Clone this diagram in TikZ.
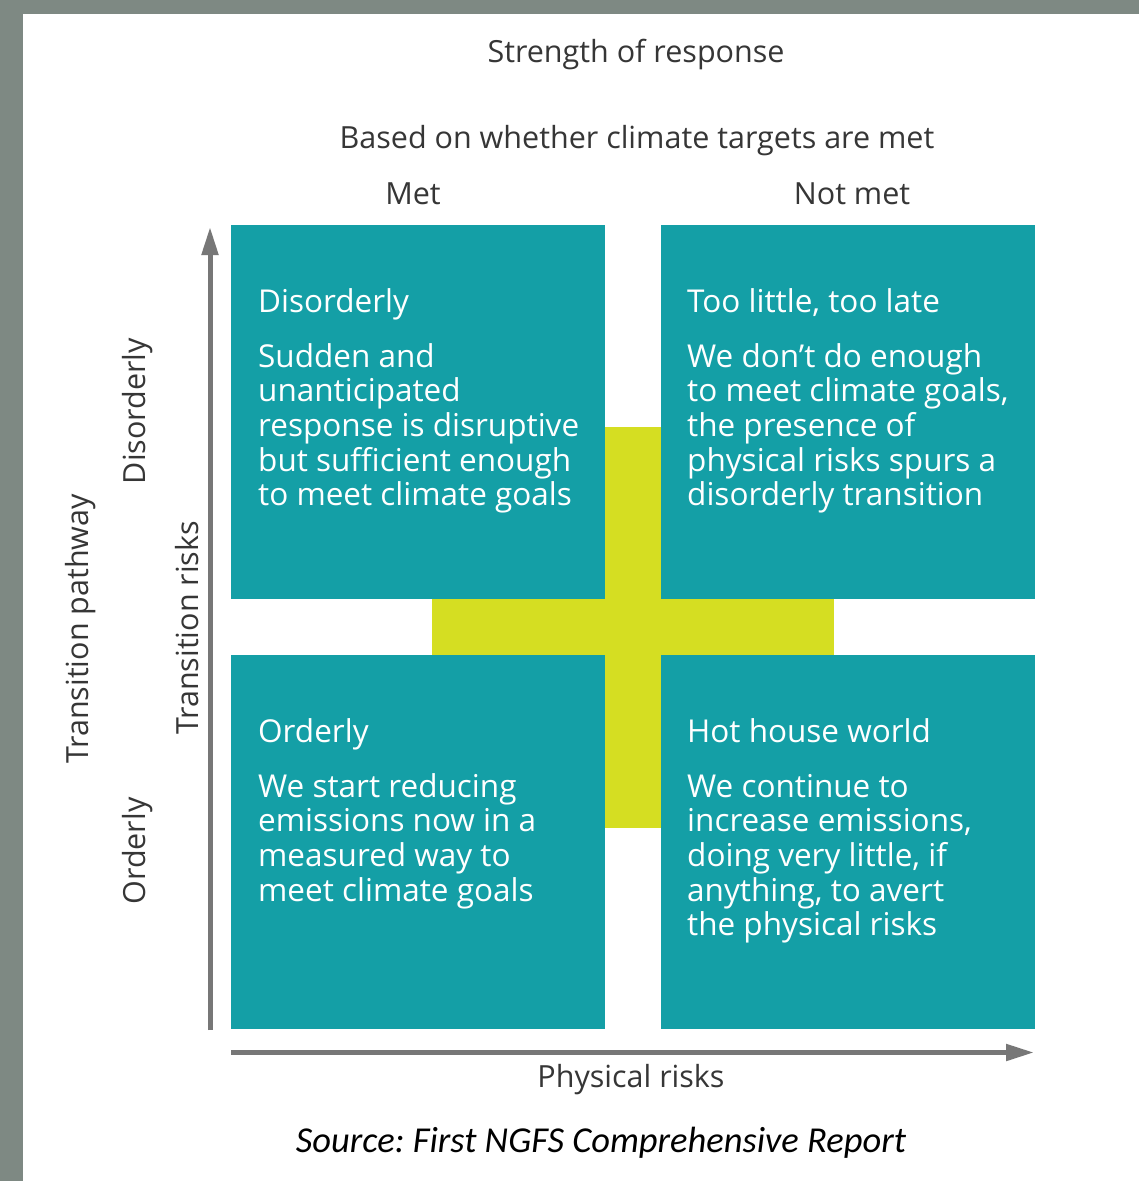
\documentclass[tikz,border=0pt]{standalone}
\usepackage{fontspec}
\setmainfont{Open Sans}
\newfontfamily\srcfont{Carlito}
\usetikzlibrary{arrows.meta}
\frenchspacing

\definecolor{bgstone}{HTML}{7E8983}
\definecolor{quadfill}{HTML}{149FA6}
\definecolor{crossfill}{HTML}{D5DE22}
\definecolor{labelgray}{HTML}{363636}
\definecolor{axisgray}{HTML}{777777}

\tikzset{
  quad/.style={fill=quadfill, draw=none, minimum width=374pt, minimum height=374pt,
    inner sep=0pt, anchor=north west},
  boxtitle/.style={anchor=base west, inner sep=0pt, text=white,
    font=\fontsize{31.5}{34.7}\selectfont},
  boxbody/.style={anchor=base west, inner sep=0pt, text=white,
    font=\fontsize{31.5}{34.7}\selectfont},
  label/.style={anchor=base, inner sep=0pt, text=labelgray,
    font=\fontsize{30.5}{34}\selectfont},
  sidelabel/.style={label, rotate=90},
  axis/.style={draw=axisgray, line width=5pt,
    -{Triangle[length=28pt,width=16pt]}},
}

\begin{document}
\begin{tikzpicture}[x=1pt,y=-1pt]
  \useasboundingbox (0,0) rectangle (1139,1181);
  % page background and white panel
  \fill[bgstone] (0,0) rectangle (1139,1181);
  \fill[white] (23,14) rectangle (1139,1181);

  % central cross behind the quadrants
  \fill[crossfill] (605,427) rectangle (661,828);
  \fill[crossfill] (432,599) rectangle (834,655);

  % quadrants
  \node[quad] (tl) at (231,225) {};
  \node[quad] (tr) at (661,225) {};
  \node[quad] (bl) at (231,655) {};
  \node[quad] (br) at (661,655) {};

  % quadrant texts
  \node[boxtitle] (tl-title) at (258,312) {Disorderly};
  \node[boxbody] (tl-body) at (258,367) {\parbox[t]{345pt}{Sudden and\\
    unanticipated\\ response is disruptive\\ but sufficient enough\\ to meet climate goals}};

  \node[boxtitle] (tr-title) at (687,312) {Too little, too late};
  \node[boxbody] (tr-body) at (687,367) {\parbox[t]{345pt}{We don’t do enough\\
    to meet climate goals,\\ the presence of\\ physical risks spurs a\\ disorderly transition}};

  \node[boxtitle] (bl-title) at (258,742) {Orderly};
  \node[boxbody] (bl-body) at (258,797) {\parbox[t]{345pt}{We start reducing\\
    emissions now in a\\ measured way to\\ meet climate goals}};

  \node[boxtitle] (br-title) at (687,742) {Hot house world};
  \node[boxbody] (br-body) at (687,797) {\parbox[t]{345pt}{We continue to\\
    increase emissions,\\ doing very little, if\\ anything, to avert\\ the physical risks}};

  % headings
  \node[label] (strength) at (636,62) {Strength of response};
  \node[label] (based) at (637,148) {Based on whether climate targets are met};
  \node[label] (met) at (413,204) {Met};
  \node[label] (notmet) at (852,204) {Not met};

  % side labels
  \node[sidelabel] (pathway) at (88,629) {Transition pathway};
  \node[sidelabel] (disorderly) at (145,411) {Disorderly};
  \node[sidelabel] (orderly) at (145,851) {Orderly};
  \node[sidelabel] (trisks) at (198,628) {Transition risks};

  % axes
  \coordinate (yaxis-bot) at (210,1030);
  \coordinate (yaxis-top) at (210,227);
  \coordinate (xaxis-left) at (231,1052.5);
  \coordinate (xaxis-right) at (1034,1052.5);
  \draw[axis] (yaxis-bot) -- (yaxis-top);
  \draw[axis] (xaxis-left) -- (xaxis-right);

  \node[label] (physical) at (631,1087) {Physical risks};

  % source line
  \node[anchor=base, inner sep=0pt, text=black,
    font=\srcfont\itshape\fontsize{36.5}{40}\selectfont] (source) at (601,1152)
    {Source: First NGFS Comprehensive Report};
\end{tikzpicture}
\end{document}
